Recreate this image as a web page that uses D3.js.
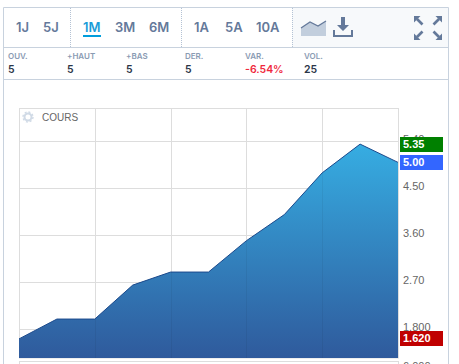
<!DOCTYPE html>
<html>
<head>
<meta charset="utf-8">
<script src="https://cdn.jsdelivr.net/npm/d3@7"></script>
<style>
html, body { margin: 0; padding: 0; background: #fff; overflow: hidden; }
text { font-family: Inter, "Open Sans", sans-serif; }
.plain text, text.plain { font-family: "Liberation Sans", Arial, sans-serif; }
</style>
</head>
<body>
<div id="chart"></div>
<script>
// values
const days = [0, 1, 2, 3, 4, 5, 6, 7, 8, 9, 10];
const prices = [1.62, 2.0, 2.0, 2.65, 2.9, 2.9, 3.5, 4.0, 4.8, 5.35, 5.0];
const yTicks = [1.8, 2.7, 3.6, 4.5, 5.4];
const yTickLabels = ["1.800", "2.70", "3.60", "4.50", "5.40"];
const xGrid = [2, 4, 6, 8];
const periods = [["1J", 16], ["5J", 43], ["1M", 83], ["3M", 115], ["6M", 149], ["1A", 194], ["5A", 225], ["10A", 256]];
const stats = [["OUV.", "5", 8], ["+HAUT", "5", 67], ["+BAS", "5", 126], ["DER.", "5", 185], ["VAR.", "-6.54%", 245], ["VOL.", "25", 304]];
const priceTags = [["5.35", 5.35, "#008000"], ["5.00", 5.0, "#3366ff"], ["1.620", 1.62, "#c00000"]];

const width = 459, height = 364;
const svg = d3.select("#chart").append("svg")
    .attr("width", width).attr("height", height)
    .style("display", "block");

const border = "#c8d2de";
const iconColor = "#64799a";

// toolbar background and frame
svg.append("rect").attr("x", 292).attr("y", 8).attr("width", 156).attr("height", 39).attr("fill", "#f7f9fb");
svg.append("path")
    .attr("d", "M3.5 364V7.5H448.5V364M3 47.5H448M3 79.5H448")
    .attr("fill", "none").attr("stroke", border);
[70.5, 181.5, 292.5].forEach(x => {
    svg.append("line").attr("x1", x).attr("x2", x).attr("y1", 8).attr("y2", 47)
        .attr("stroke", "#b4c2d4").attr("stroke-dasharray", "1,1");
});

// period buttons
svg.selectAll(".period").data(periods).join("text")
    .attr("x", d => d[1]).attr("y", 32)
    .attr("font-size", 13).attr("font-weight", 600)
    .attr("fill", d => d[0] === "1M" ? "#1a9cd8" : iconColor)
    .text(d => d[0]);
svg.append("rect").attr("x", 83).attr("y", 35).attr("width", 18).attr("height", 2).attr("fill", "#009ddc");

// chart type icon
svg.append("path").attr("d", "M301 36V28L310 22L318 26L326 21V36Z").attr("fill", "#c2cedd");
svg.append("path").attr("d", "M301 28L310 22L318 26L326 21").attr("fill", "none").attr("stroke", iconColor).attr("stroke-width", 1.3);
// download icon
svg.append("path").attr("d", "M341 17H345V25H349L343 31L337 25H341Z").attr("fill", iconColor);
svg.append("path").attr("d", "M334 30V36H352V30").attr("fill", "none").attr("stroke", iconColor).attr("stroke-width", 2);
// fullscreen arrows
const arrows = [[414, 16, 1, 1], [442, 16, -1, 1], [414, 40, 1, -1], [442, 40, -1, -1]];
const arrowG = svg.selectAll(".arrow").data(arrows).join("g")
    .attr("transform", d => `translate(${d[0]},${d[1]}) scale(${d[2]},${d[3]})`);
arrowG.append("path").attr("d", "M0 0H6.500L0 6.500Z").attr("fill", iconColor);
arrowG.append("path").attr("d", "M3 3L8.500 8.500").attr("stroke", iconColor).attr("stroke-width", 2.6);

// stats row
svg.selectAll(".statLabel").data(stats).join("text")
    .attr("x", d => d[2]).attr("y", 59)
    .attr("font-size", 8).attr("font-weight", 600).attr("fill", "#8a9bb3")
    .text(d => d[0]);
svg.selectAll(".statValue").data(stats).join("text")
    .attr("x", d => d[2]).attr("y", 73)
    .attr("font-size", 10.5).attr("font-weight", 600)
    .attr("fill", d => d[0] === "VAR." ? "#f0283c" : "#2b3648")
    .text(d => d[1]);

// scales
const x = d3.scaleLinear().domain([0, 10]).range([19, 398]);
const y = d3.scaleLinear().domain([1.8, 5.4]).range([329.5, 141.5]);
const plotTop = 108.5, plotBottom = 358;

const grad = svg.append("defs").append("linearGradient")
    .attr("id", "areaFill").attr("gradientUnits", "userSpaceOnUse")
    .attr("x1", 0).attr("x2", 0).attr("y1", y(5.35)).attr("y2", plotBottom);
grad.append("stop").attr("offset", "0%").attr("stop-color", "#36ade2");
grad.append("stop").attr("offset", "100%").attr("stop-color", "#2f5a9c");

// grid
svg.append("rect").attr("x", 19.5).attr("y", plotTop).attr("width", 379).attr("height", plotBottom - plotTop)
    .attr("fill", "none").attr("stroke", "#dddddd");
svg.selectAll(".gy").data(yTicks).join("line")
    .attr("x1", x(0)).attr("x2", x(10))
    .attr("y1", d => y(d)).attr("y2", d => y(d))
    .attr("stroke", "#dddddd");
svg.selectAll(".gx").data(xGrid).join("line")
    .attr("x1", d => Math.round(x(d)) + 0.5).attr("x2", d => Math.round(x(d)) + 0.5)
    .attr("y1", plotTop).attr("y2", plotBottom)
    .attr("stroke", "#dddddd");

// area and line
const area = d3.area().x((d, i) => x(days[i])).y0(plotBottom).y1(d => y(d));
const line = d3.line().x((d, i) => x(days[i])).y(d => y(d));
svg.append("path").datum(prices).attr("d", area).attr("fill", "url(#areaFill)");
svg.append("path").datum(prices).attr("d", line).attr("fill", "none").attr("stroke", "#1c4a8c").attr("stroke-width", 1);
svg.selectAll(".gxo").data(xGrid).join("line")
    .attr("x1", d => Math.round(x(d)) + 0.5).attr("x2", d => Math.round(x(d)) + 0.5)
    .attr("y1", d => y(prices[d])).attr("y2", plotBottom)
    .attr("stroke", "#000").attr("stroke-opacity", 0.05);

// next panel, cut off by the window
svg.append("rect").attr("x", 19.5).attr("y", 361.5).attr("width", 379).attr("height", 10)
    .attr("fill", "none").attr("stroke", "#dddddd");
svg.append("text").attr("class", "plain").attr("x", 403).attr("y", 369.5).attr("font-size", 11).attr("fill", "#666").text("6,000");

// axis labels
const yAxis = d3.axisRight(y).tickValues(yTicks).tickSize(0).tickPadding(0)
    .tickFormat((d, i) => yTickLabels[i]);
const axisG = svg.append("g").attr("class", "plain").attr("transform", "translate(403,-3)").call(yAxis);
axisG.select(".domain").remove();
axisG.selectAll("text").attr("font-size", 11).attr("fill", "#666");

// price tags
const tags = svg.selectAll(".tag").data(priceTags).join("g")
    .attr("class", "plain")
    .attr("transform", d => `translate(400,${Math.floor(y(d[1])) - 7})`);
tags.append("rect").attr("width", 43).attr("height", 15).attr("fill", d => d[2]);
tags.append("text").attr("x", 3).attr("y", 11)
    .attr("font-size", 11).attr("font-weight", 700).attr("fill", "#fff")
    .text(d => d[0]);

// settings cog and legend
const cog = svg.append("g").attr("transform", "translate(28,117)");
cog.append("circle").attr("r", 3.5).attr("fill", "none").attr("stroke", "#d0dae6").attr("stroke-width", 2);
cog.append("circle").attr("r", 5).attr("fill", "none").attr("stroke", "#d0dae6").attr("stroke-width", 1.4).attr("stroke-dasharray", "2,1.9");
svg.append("text").attr("class", "plain").attr("x", 42).attr("y", 121).attr("font-size", 10).attr("fill", "#666").text("COURS");
</script>
</body>
</html>
